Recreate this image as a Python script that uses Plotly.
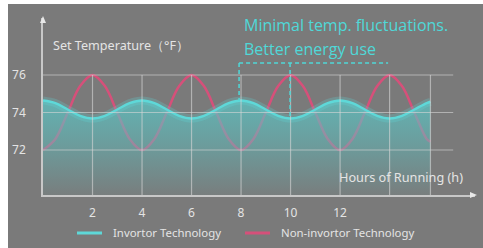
import plotly.graph_objects as go

# ---- data ----
hours = [0, 0.5, 1, 1.5, 2, 2.5, 3, 3.5, 4, 4.5, 5, 5.5, 6, 6.5, 7, 7.5,
         8, 8.5, 9, 9.5, 10, 10.5, 11, 11.5, 12, 12.5, 13, 13.5, 14, 14.5, 15, 15.5, 15.65]
non_inverter = [72, 72.59, 74, 75.41, 76, 75.41, 74, 72.59,
                72, 72.59, 74, 75.41, 76, 75.41, 74, 72.59,
                72, 72.59, 74, 75.41, 76, 75.41, 74, 72.59,
                72, 72.59, 74, 75.41, 76, 75.41, 74, 72.59, 72.45]
inverter = [74.64, 74.5, 74.16, 73.82, 73.68, 73.82, 74.16, 74.5,
            74.64, 74.5, 74.16, 73.82, 73.68, 73.82, 74.16, 74.5,
            74.64, 74.5, 74.16, 73.82, 73.68, 73.82, 74.16, 74.5,
            74.64, 74.5, 74.16, 73.82, 73.68, 73.82, 74.16, 74.5, 74.57]
x_ticks = [2, 4, 6, 8, 10, 12]
x_grid = [2, 4, 6, 8, 10, 12, 14, 15.65]
y_ticks = [72, 74, 76]
y_label = "Set Temperature（°F）"
x_label = "Hours of Running (h)"
note_lines = ["Minimal temp. fluctuations.", "Better energy use"]
series_names = ["Invortor Technology", "Non-invortor Technology"]
box_x = [7.92, 9.98, 13.94]
box_top = 76.64
box_bottoms = [74.64, 73.68]

# ---- geometry ----
W, H = 483, 248
L, R, T, B = 43, 8, 18, 53
PW, PH = W - L - R, H - T - B
X0, X1 = 0, 17.45
Y0, Y1 = 69.6, 79.04


def px(x):
    return (x - L) / PW


def py(y):
    return (H - B - y) / PH


BG = "#7a7a7a"
TEAL = "#5ed8d8"
RED = "#d6507a"
GRID = "rgba(215,215,215,0.6)"
AXIS = "#c8c8c8"
TXT = "#e4e4e4"
NOTE = "#4fd8d8"
FONT = "Noto Sans"

fig = go.Figure()

fig.add_trace(go.Scatter(x=hours, y=non_inverter, mode="lines",
                         line=dict(color=RED, width=2.5, shape="spline"),
                         showlegend=False, hoverinfo="skip"))
fig.add_trace(go.Scatter(x=hours, y=inverter, mode="lines", fill="tozeroy",
                         fillgradient=dict(type="vertical", start=Y0, stop=74.6,
                                           colorscale=[[0, "rgba(90,200,200,0.05)"],
                                                       [0.55, "rgba(90,200,200,0.45)"],
                                                       [1, "rgba(90,200,200,0.72)"]]),
                         line=dict(color="rgba(94,216,216,0.25)", width=8, shape="spline"),
                         showlegend=False, hoverinfo="skip"))
fig.add_trace(go.Scatter(x=hours, y=inverter, mode="lines",
                         line=dict(color=TEAL, width=2.5, shape="spline"),
                         showlegend=False, hoverinfo="skip"))

shapes = []
# background with white strip on left/top
shapes.append(dict(type="rect", xref="paper", yref="paper", x0=px(8), x1=px(W + 5),
                   y0=py(H + 5), y1=py(4), fillcolor=BG, line=dict(width=0), layer="below"))
shapes.append(dict(type="rect", xref="paper", yref="paper", x0=px(-5), x1=px(8),
                   y0=py(H + 5), y1=py(-5), fillcolor="white", line=dict(width=0), layer="below"))
shapes.append(dict(type="rect", xref="paper", yref="paper", x0=px(-5), x1=px(W + 5),
                   y0=py(4), y1=py(-5), fillcolor="white", line=dict(width=0), layer="below"))
# grid
for g in x_grid:
    shapes.append(dict(type="line", xref="x", yref="y", x0=g, x1=g, y0=Y0, y1=y_ticks[-1],
                       line=dict(color=GRID, width=1.2), layer="above"))
for g in y_ticks:
    shapes.append(dict(type="line", xref="x", yref="y", x0=X0, x1=16.57, y0=g, y1=g,
                       line=dict(color=GRID, width=1.2), layer="above"))
# axis arrows
shapes.append(dict(type="path", xref="paper", yref="paper",
                   path=f"M {px(40)},{py(23)} L {px(43)},{py(16)} L {px(46)},{py(23)} Z",
                   fillcolor="#e8e8e8", line=dict(width=0)))
shapes.append(dict(type="path", xref="paper", yref="paper",
                   path=f"M {px(470)},{py(192)} L {px(477)},{py(195)} L {px(470)},{py(198)} Z",
                   fillcolor="#e8e8e8", line=dict(width=0)))
# dashed callout
dash = dict(color=NOTE, width=1.5, dash="4px,3px")
shapes.append(dict(type="line", xref="x", yref="y", x0=box_x[0], x1=box_x[2], y0=box_top, y1=box_top, line=dash))
shapes.append(dict(type="line", xref="x", yref="y", x0=box_x[0], x1=box_x[0], y0=box_top, y1=box_bottoms[0], line=dash))
shapes.append(dict(type="line", xref="x", yref="y", x0=box_x[1], x1=box_x[1], y0=box_top, y1=box_bottoms[1], line=dash))
# legend lines
shapes.append(dict(type="line", xref="paper", yref="paper", x0=px(77), x1=px(102), y0=py(233), y1=py(233),
                   line=dict(color=TEAL, width=3)))
shapes.append(dict(type="line", xref="paper", yref="paper", x0=px(245), x1=px(270), y0=py(233), y1=py(233),
                   line=dict(color=RED, width=3)))

ann = []
ann.append(dict(xref="paper", yref="paper", x=px(242), y=py(24.5), text=note_lines[0], showarrow=False,
                xanchor="left", yanchor="middle", font=dict(family="Open Sans", size=16, color=NOTE)))
ann.append(dict(xref="paper", yref="paper", x=px(242), y=py(48.5), text=note_lines[1], showarrow=False,
                xanchor="left", yanchor="middle", font=dict(family="Open Sans", size=16, color=NOTE)))
ann.append(dict(xref="paper", yref="paper", x=px(51), y=py(45), text=y_label, showarrow=False,
                xanchor="left", yanchor="middle", font=dict(family=FONT, size=12.6, color=TXT)))
ann.append(dict(xref="paper", yref="paper", x=px(337), y=py(177), text=x_label, showarrow=False,
                xanchor="left", yanchor="middle", font=dict(family=FONT, size=12.7, color=TXT)))
ann.append(dict(xref="paper", yref="paper", x=px(111), y=py(232), text=series_names[0], showarrow=False,
                xanchor="left", yanchor="middle", font=dict(family=FONT, size=11.4, color=TXT)))
ann.append(dict(xref="paper", yref="paper", x=px(279), y=py(232), text=series_names[1], showarrow=False,
                xanchor="left", yanchor="middle", font=dict(family=FONT, size=11.4, color=TXT)))

fig.update_layout(
    width=W, height=H,
    margin=dict(l=L, r=R, t=T, b=B, pad=0),
    paper_bgcolor="white", plot_bgcolor="rgba(0,0,0,0)",
    shapes=shapes, annotations=ann, showlegend=False,
    xaxis=dict(range=[X0, X1], tickvals=x_ticks, showgrid=False, zeroline=False,
               showline=True, linecolor=AXIS, linewidth=1.5, ticks="",
               ticklabelstandoff=6, tickfont=dict(family=FONT, size=12, color=TXT)),
    yaxis=dict(range=[Y0, Y1], tickvals=y_ticks, showgrid=False, zeroline=False,
               showline=True, linecolor=AXIS, linewidth=1.5, ticks="",
               ticklabelstandoff=13, tickfont=dict(family=FONT, size=12, color=TXT)),
)

fig.write_html("out.html", config={"displayModeBar": False},
               post_script="document.body.style.margin='0';document.body.style.padding='0';"
                           "document.documentElement.style.overflow='hidden';")
